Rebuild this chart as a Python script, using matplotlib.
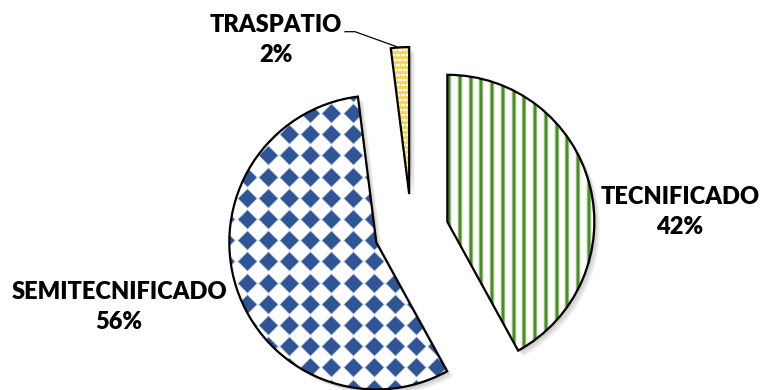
import matplotlib
matplotlib.use("Agg")
import matplotlib.pyplot as plt
import matplotlib.patches as mpatches
from matplotlib import patheffects as pe
import numpy as np

# Production system shares (%)
categories = ["TECNIFICADO", "SEMITECNIFICADO", "TRASPATIO"]
shares = [42, 56, 2]

W, H = 762, 390
fig = plt.figure(figsize=(W / 100, H / 100), dpi=100)
ax = fig.add_axes([0, 0, 1, 1])

# pie geometry in pixel-like data units
center = (411.5, H - 231)
radius = 147
explode = [37, 37, 37]

shadow = [pe.SimplePatchShadow(offset=(o, -o), shadow_rgbFace="black", alpha=0.06)
          for o in (1, 2, 3, 4)] + [pe.Normal()]

wedges, _ = ax.pie(shares, radius=radius, center=center, explode=explode,
                   startangle=90, counterclock=False, colors=["white"] * 3,
                   wedgeprops=dict(edgecolor="none", linewidth=0, zorder=1))
for w in wedges:
    w.set_path_effects(shadow)

ax.set_xlim(0, W)
ax.set_ylim(0, H)
ax.set_aspect("equal")
ax.axis("off")

w_tec, w_semi, w_tras = wedges

# vertical green stripes
xs = np.arange(449 - 10.75 * 2, 620, 10.75)
stripes_l = ax.vlines(xs, 0, H, colors="#93c377", lw=3.2, zorder=2)
stripes = ax.vlines(xs, 0, H, colors="#4e8a2d", lw=1.6, zorder=2)
stripes_l.set_clip_path(w_tec)
stripes.set_clip_path(w_tec)

# blue diamond grid
step = 21.2
gx = np.arange(246.7 - step * 2, 460, step)
gy = np.arange(113 - step * 2, 400, step)
GX, GY = np.meshgrid(gx, gy)
diam_soft = ax.scatter(GX.ravel(), H - GY.ravel(), marker=(4, 0, 0), s=215,
                       color="#2f5597", alpha=0.35, linewidths=0, zorder=2)
diam = ax.scatter(GX.ravel(), H - GY.ravel(), marker=(4, 0, 0), s=170,
                  color="#2f5597", linewidths=0, zorder=2)
diam_soft.set_clip_path(w_semi)
diam.set_clip_path(w_semi)

# yellow dotted fill
tras_bg = mpatches.PathPatch(w_tras.get_path(), facecolor="#fbd45c",
                             edgecolor="none", zorder=2)
ax.add_patch(tras_bg)
dx = np.arange(385, 415, 5.0)
dy = np.arange(40, 200, 5.0)
DX, DY = np.meshgrid(dx, dy)
DX = DX + (np.arange(len(dy))[:, None] % 2) * 2.5
dots = ax.scatter(DX.ravel(), H - DY.ravel(), marker="_", s=5,
                  color="white", linewidths=1.2, zorder=2.5)
dots.set_clip_path(w_tras)

# outlines on top
for w in wedges:
    ax.add_patch(mpatches.PathPatch(w.get_path(), facecolor="none",
                                    edgecolor="black", lw=1.6, zorder=3,
                                    joinstyle="miter"))

font = dict(family="Lato", weight="heavy", size=17, ha="center", va="center",
            multialignment="center", linespacing=1.45, color="black")
ax.text(680, H - 211.7, f"{categories[0]}\n{shares[0]}%", **font)
ax.text(119, H - 306.7, f"{categories[1]}\n{shares[1]}%", **font)
ax.text(276, H - 40, f"{categories[2]}\n{shares[2]}%", **font)

# leader line for the small slice
ax.plot([345, 355, 396.7], [H - 31.7, H - 31.7, H - 46.7], color="black", lw=0.9, zorder=3)

fig.savefig("out.png", dpi=100)
